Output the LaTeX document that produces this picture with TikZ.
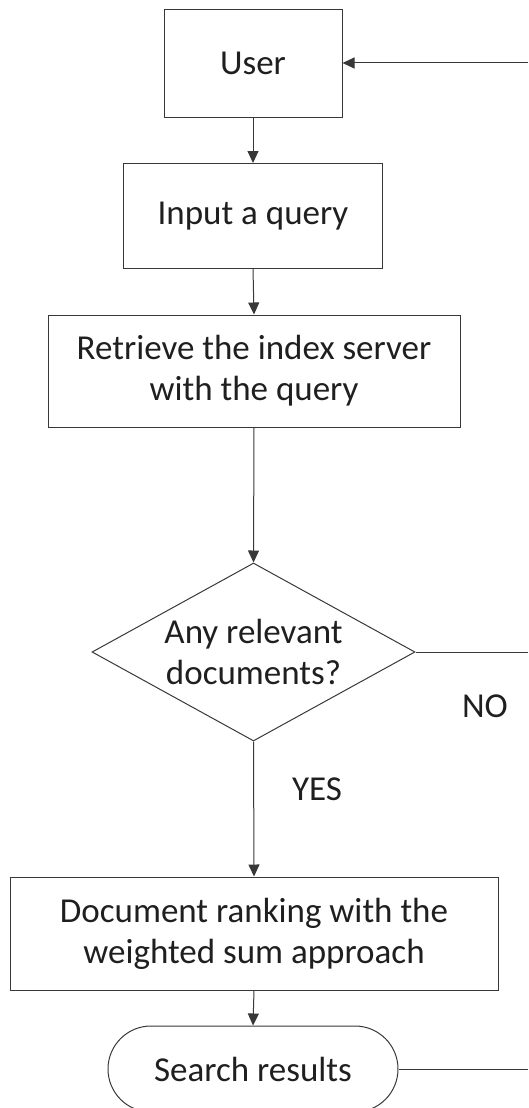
\documentclass[tikz,border=0pt]{standalone}
\usepackage{fontspec}
\setmainfont{Carlito}
\usetikzlibrary{arrows.meta,shapes.geometric}
\begin{document}
\begin{tikzpicture}[x=1pt,y=-1pt,
  every node/.style={font=\fontsize{35}{41}\selectfont, text=black!88},
  conn/.style={draw=black!78, line width=1pt},
  arr/.style={conn, -{Triangle[length=12pt,width=11pt]}},
  procbox/.style={draw=black!78, line width=1pt, rectangle, align=center, inner sep=0pt},
  decision/.style={draw=black!78, line width=1pt, diamond, aspect=1.81, inner sep=0pt, align=center,
    minimum width=323pt, minimum height=178pt},
  terminal/.style={draw=black!78, line width=1pt, rectangle, rounded corners=43pt, inner sep=0pt,
    minimum width=290pt, minimum height=86pt},
  lbl/.style={inner sep=0pt}]
  \useasboundingbox (0,0) rectangle (528,1108);

  % process steps
  \node[procbox, minimum width=178pt, minimum height=107pt] (user) at (253,63.5) {User};
  \node[procbox, minimum width=259pt, minimum height=105pt] (input) at (253,216) {Input a query};
  \node[procbox, minimum width=412pt, minimum height=112pt] (retr) at (254,371)
    {Retrieve the index server\\with the query};
  \node[decision] (dec) at (253.5,652) {Any relevant\\documents?};
  \node[procbox, minimum width=488pt, minimum height=113pt] (rank) at (254,933.5)
    {Document ranking with the\\weighted sum approach};
  \node[terminal] (res) at (253,1069) {Search results};

  % free ends at the right border
  \coordinate (backtop) at (528,63);
  \coordinate (backno) at (528,652);
  \coordinate (backres) at (528,1069);

  % main flow
  \draw[arr] (user.south) -- (input.north);
  \draw[arr] (input.south) -- (retr.north);
  \draw[arr] (retr.south) -- (dec.north);
  \draw[arr] (dec.south) -- (rank.north);
  \draw[arr] (rank.south) -- (res.north);

  % feedback lines towards the user
  \draw[arr] (backtop) -- (user.east |- backtop);
  \draw[conn] (dec.east) -- (backno);
  \draw[conn] (res.east) -- (backres);

  % branch labels
  \node[lbl] (no) at (485,706) {NO};
  \node[lbl] (yes) at (317,789) {YES};
\end{tikzpicture}
\end{document}
